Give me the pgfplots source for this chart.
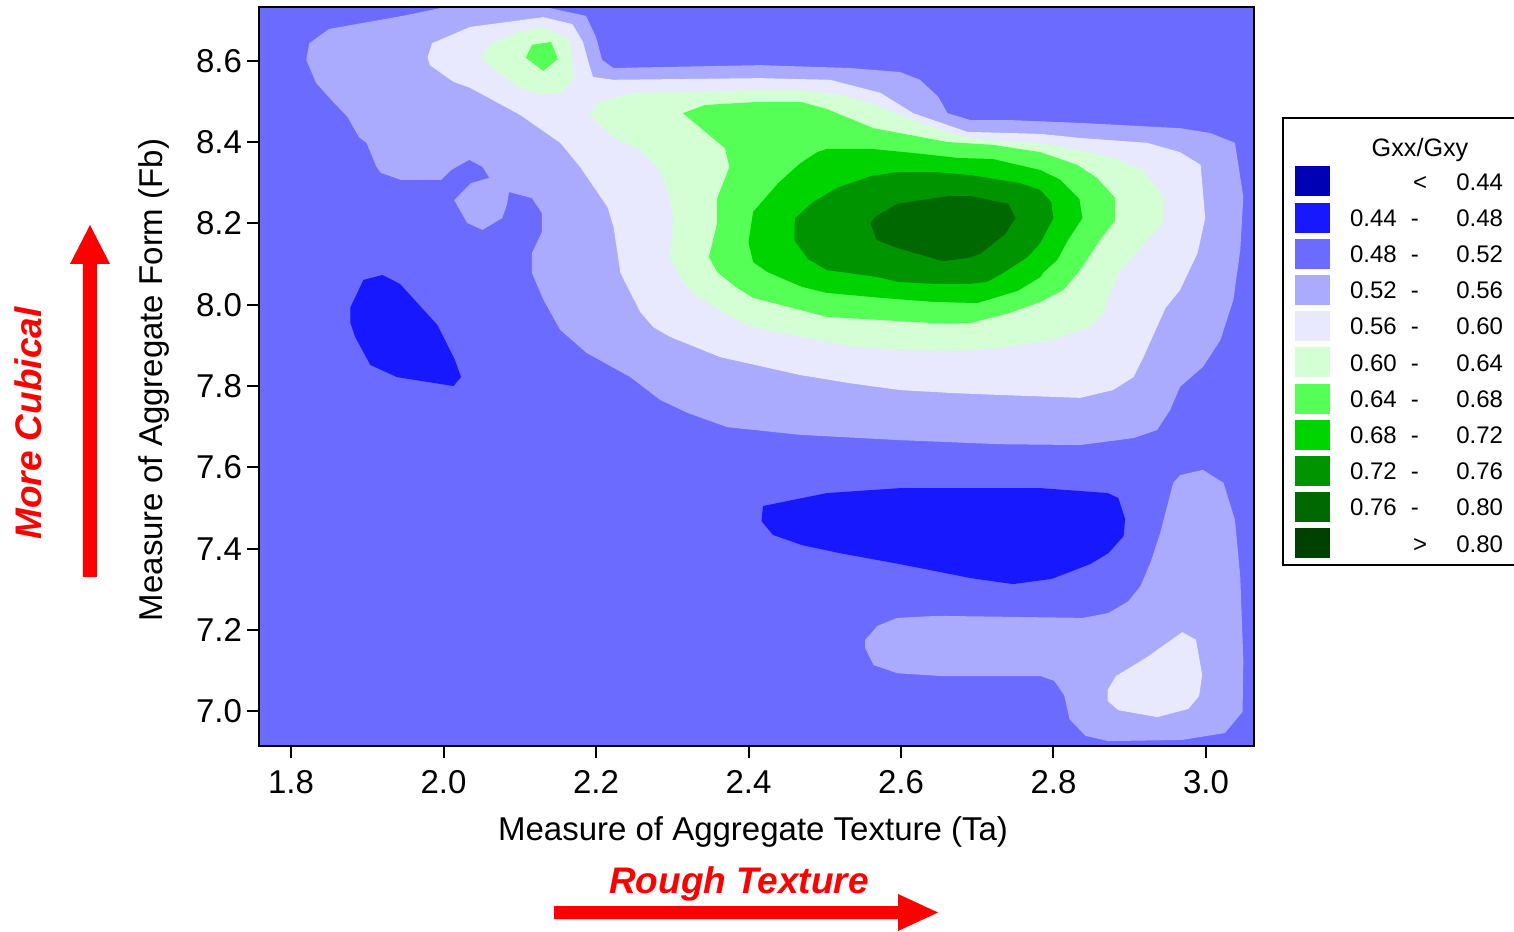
\documentclass[border=0pt]{standalone}
\usepackage{fontspec}
\setmainfont{Liberation Sans}
\usepackage{pgfplots}
\pgfplotsset{compat=1.18}
\definecolor{c1}{RGB}{0,0,180}
\definecolor{c2}{RGB}{24,24,255}
\definecolor{c3}{RGB}{107,107,255}
\definecolor{c4}{RGB}{170,170,255}
\definecolor{c5}{RGB}{232,232,255}
\definecolor{c6}{RGB}{212,255,212}
\definecolor{c7}{RGB}{85,255,85}
\definecolor{c8}{RGB}{0,212,0}
\definecolor{c9}{RGB}{0,148,0}
\definecolor{c10}{RGB}{0,104,0}
\definecolor{c11}{RGB}{0,64,0}
\newcommand{\LR}[2]{\raisebox{0pt}[11.3pt][2.7pt]{\hbox to 76.5pt{\rlap{#1}\hskip 32.5pt\makebox[0pt]{-}\hfill #2}}}
\newcommand{\LS}[2]{\raisebox{0pt}[11.3pt][2.7pt]{\hbox to 76.5pt{\hskip 35pt\makebox[0pt]{#1}\hfill #2}}}
\pgfplotsset{sw/.style={legend image code/.code={\fill[#1] (0pt,-7pt) rectangle (16.5pt,7pt);}}}
\begin{document}
\begin{tikzpicture}
\useasboundingbox (-129.5pt,-92.5pt) rectangle (627.5pt,373pt);
\begin{axis}[
  at={(0pt,0pt)}, anchor=south west,
  scale only axis, width=497.5pt, height=369.5pt,
  xmin=1.758, xmax=3.063, ymin=6.915, ymax=8.732,
  axis on top,
  axis background/.style={fill=c3},
  axis line style={line width=1pt},
  every tick/.style={black, line width=1pt},
  tick align=outside, major tick length=6pt,
  xtick pos=bottom, ytick pos=left,
  xtick={1.8,2.0,2.2,2.4,2.6,2.8,3.0},
  ytick={7.0,7.2,7.4,7.6,7.8,8.0,8.2,8.4,8.6},
  scaled ticks=false,
  /pgf/number format/assume math mode=true,
  /pgf/number format/fixed,
  /pgf/number format/fixed zerofill,
  /pgf/number format/precision=1,
  tick label style={font=\fontsize{16.5}{19.8}\selectfont},
  xticklabel style={yshift=-2.5pt},
  yticklabel style={xshift=1pt},
  label style={font=\fontsize{16.5}{19.8}\selectfont},
  xlabel={Measure of Aggregate Texture (Ta)},
  ylabel={Measure of Aggregate Form (Fb)},
  xlabel style={at={(axis description cs:0.4965,-0.1272)}, anchor=base},
  ylabel style={at={(axis description cs:-0.0965,0.4953)}, anchor=base},
  legend cell align=left,
  legend style={at={(1,1)}, anchor=north west, xshift=14pt, yshift=-55pt,
    draw=black, line width=1pt, fill=white,
    font=\fontsize{12}{14.4}\selectfont,
    inner xsep=6pt, inner ysep=3.5pt, row sep=3.1pt, column sep=10pt,
    nodes={inner sep=0pt, text depth={}}},
]
% 0.52 - 0.56
\addplot[fill=c4, draw=none, forget plot] coordinates {
(2.003,8.732) (1.946,8.710) (1.850,8.678) (1.824,8.643) (1.820,8.602) (1.833,8.545) (1.853,8.503) (1.874,8.462) (1.889,8.412) (1.899,8.398) (1.912,8.339) (1.918,8.324) (1.944,8.307) (1.997,8.307) (2.010,8.331) (2.021,8.343) (2.034,8.356) (2.051,8.339) (2.060,8.312) (2.036,8.299) (2.014,8.257) (2.031,8.201) (2.051,8.184) (2.077,8.213) (2.083,8.245) (2.086,8.277) (2.116,8.262) (2.129,8.225) (2.129,8.179) (2.116,8.127) (2.116,8.078) (2.131,8.012) (2.153,7.938) (2.188,7.881) (2.245,7.822) (2.284,7.766) (2.320,7.734) (2.372,7.699) (2.468,7.680) (2.599,7.667) (2.730,7.657) (2.835,7.655) (2.905,7.672) (2.936,7.692) (2.953,7.741) (2.966,7.798) (2.996,7.847) (3.019,7.913) (3.036,8.012) (3.045,8.135) (3.049,8.265) (3.038,8.398) (3.006,8.422) (2.966,8.434) (2.835,8.447) (2.743,8.454) (2.691,8.454) (2.661,8.471) (2.649,8.511) (2.625,8.553) (2.599,8.572) (2.533,8.582) (2.415,8.589) (2.223,8.582) (2.208,8.602) (2.200,8.658) (2.187,8.710) (2.133,8.732)
} -- cycle;
\addplot[fill=c4, draw=none, forget plot] coordinates {
(2.553,7.176) (2.569,7.210) (2.595,7.230) (2.648,7.235) (2.839,7.230) (2.872,7.242) (2.898,7.271) (2.914,7.308) (2.927,7.365) (2.940,7.439) (2.957,7.562) (2.966,7.581) (2.996,7.594) (3.023,7.562) (3.038,7.471) (3.045,7.330) (3.049,7.126) (3.048,6.999) (3.025,6.947) (2.969,6.930) (2.872,6.927) (2.842,6.940) (2.821,6.981) (2.814,7.040) (2.801,7.075) (2.783,7.087) (2.652,7.087) (2.595,7.094) (2.564,7.114) (2.553,7.156)
} -- cycle;
% 0.56 - 0.60
\addplot[fill=c5, draw=none, forget plot] coordinates {
(1.979,8.607) (1.985,8.643) (2.035,8.683) (2.131,8.707) (2.169,8.690) (2.183,8.646) (2.190,8.597) (2.196,8.560) (2.223,8.553) (2.415,8.557) (2.507,8.553) (2.573,8.521) (2.616,8.471) (2.687,8.425) (2.783,8.420) (2.835,8.410) (2.923,8.398) (2.966,8.375) (2.993,8.344) (2.999,8.213) (2.989,8.127) (2.966,8.036) (2.947,7.992) (2.918,7.871) (2.905,7.822) (2.878,7.790) (2.835,7.771) (2.730,7.778) (2.665,7.783) (2.599,7.790) (2.533,7.807) (2.468,7.827) (2.363,7.871) (2.297,7.921) (2.275,7.945) (2.258,7.982) (2.232,8.078) (2.223,8.191) (2.215,8.240) (2.179,8.339) (2.153,8.398) (2.101,8.466) (2.035,8.533) (2.013,8.548) (1.982,8.589)
} -- cycle;
\addplot[fill=c5, draw=none, forget plot] coordinates {
(2.871,7.053) (2.882,7.087) (2.923,7.134) (2.969,7.195) (2.987,7.176) (2.995,7.090) (2.991,7.038) (2.977,7.006) (2.936,6.986) (2.885,7.003) (2.871,7.026)
} -- cycle;
% 0.60 - 0.64
\addplot[fill=c6, draw=none, forget plot] coordinates {
(2.051,8.607) (2.060,8.639) (2.099,8.671) (2.129,8.683) (2.165,8.653) (2.171,8.560) (2.156,8.521) (2.129,8.518) (2.099,8.533) (2.051,8.602)
} -- cycle;
\addplot[fill=c6, draw=none, forget plot] coordinates {
(2.310,8.523) (2.415,8.528) (2.468,8.528) (2.520,8.516) (2.560,8.496) (2.599,8.466) (2.645,8.434) (2.687,8.410) (2.730,8.403) (2.783,8.398) (2.835,8.380) (2.878,8.361) (2.918,8.331) (2.944,8.265) (2.944,8.203) (2.914,8.139) (2.888,8.085) (2.874,8.029) (2.865,7.975) (2.846,7.943) (2.796,7.913) (2.730,7.894) (2.665,7.886) (2.599,7.889) (2.533,7.898) (2.468,7.921) (2.406,7.945) (2.367,7.980) (2.327,8.029) (2.310,8.068) (2.297,8.117) (2.301,8.208) (2.297,8.257) (2.284,8.331) (2.258,8.380) (2.223,8.412) (2.192,8.466) (2.202,8.496) (2.249,8.521)
} -- cycle;
% 0.64 - 0.68
\addplot[fill=c7, draw=none, forget plot] coordinates {
(2.108,8.607) (2.116,8.639) (2.141,8.646) (2.150,8.604) (2.131,8.575)
} -- cycle;
\addplot[fill=c7, draw=none, forget plot] coordinates {
(2.314,8.471) (2.343,8.491) (2.406,8.498) (2.470,8.498) (2.503,8.481) (2.564,8.434) (2.661,8.400) (2.721,8.393) (2.783,8.375) (2.831,8.344) (2.857,8.312) (2.881,8.262) (2.881,8.208) (2.861,8.159) (2.835,8.085) (2.813,8.036) (2.783,8.007) (2.743,7.980) (2.691,7.955) (2.641,7.955) (2.503,7.970) (2.406,8.017) (2.383,8.044) (2.359,8.080) (2.348,8.117) (2.359,8.201) (2.359,8.262) (2.375,8.339) (2.369,8.385)
} -- cycle;
% 0.68 - 0.72
\addplot[fill=c8, draw=none, forget plot] coordinates {
(2.406,8.228) (2.439,8.299) (2.468,8.348) (2.490,8.375) (2.503,8.383) (2.562,8.383) (2.616,8.373) (2.674,8.361) (2.721,8.358) (2.783,8.331) (2.809,8.307) (2.834,8.260) (2.838,8.213) (2.819,8.159) (2.805,8.110) (2.787,8.080) (2.783,8.068) (2.753,8.034) (2.700,8.004) (2.642,8.007) (2.573,8.017) (2.503,8.029) (2.470,8.044) (2.425,8.080) (2.406,8.105) (2.400,8.154)
} -- cycle;
% 0.72 - 0.76
\addplot[fill=c9, draw=none, forget plot] coordinates {
(2.461,8.213) (2.485,8.253) (2.518,8.289) (2.562,8.317) (2.596,8.326) (2.645,8.326) (2.691,8.319) (2.756,8.299) (2.783,8.282) (2.797,8.253) (2.800,8.213) (2.783,8.152) (2.766,8.117) (2.734,8.078) (2.713,8.056) (2.688,8.051) (2.645,8.051) (2.596,8.056) (2.569,8.068) (2.503,8.085) (2.478,8.112) (2.460,8.159)
} -- cycle;
% 0.76 - 0.80
\addplot[fill=c10, draw=none, forget plot] coordinates {
(2.560,8.201) (2.566,8.216) (2.595,8.248) (2.662,8.267) (2.691,8.267) (2.741,8.248) (2.750,8.213) (2.737,8.174) (2.704,8.125) (2.688,8.115) (2.655,8.107) (2.596,8.139) (2.568,8.159)
} -- cycle;
% 0.44 - 0.48
\addplot[fill=c2, draw=none, forget plot] coordinates {
(1.878,7.994) (1.895,8.061) (1.920,8.073) (1.943,8.051) (1.992,7.950) (2.015,7.864) (2.023,7.822) (2.013,7.800) (1.939,7.822) (1.904,7.852) (1.884,7.921) (1.878,7.955)
} -- cycle;
\addplot[fill=c2, draw=none, forget plot] coordinates {
(2.419,7.505) (2.503,7.537) (2.599,7.549) (2.783,7.549) (2.871,7.537) (2.885,7.525) (2.894,7.473) (2.892,7.431) (2.872,7.389) (2.848,7.362) (2.798,7.326) (2.747,7.313) (2.691,7.328) (2.599,7.362) (2.520,7.389) (2.470,7.409) (2.432,7.434) (2.417,7.468)
} -- cycle;
% legend
\addlegendimage{empty legend}
\addlegendentry{\raisebox{0pt}[15.6pt][2.05pt]{\hbox to 76.5pt{\hskip 35pt\makebox[0pt]{\fontsize{12.6}{15}\selectfont Gxx/Gxy}\hfill}}}
\addlegendimage{sw=c1}\addlegendentry{\LS{<}{0.44}}
\addlegendimage{sw=c2}\addlegendentry{\LR{0.44}{0.48}}
\addlegendimage{sw=c3}\addlegendentry{\LR{0.48}{0.52}}
\addlegendimage{sw=c4}\addlegendentry{\LR{0.52}{0.56}}
\addlegendimage{sw=c5}\addlegendentry{\LR{0.56}{0.60}}
\addlegendimage{sw=c6}\addlegendentry{\LR{0.60}{0.64}}
\addlegendimage{sw=c7}\addlegendentry{\LR{0.64}{0.68}}
\addlegendimage{sw=c8}\addlegendentry{\LR{0.68}{0.72}}
\addlegendimage{sw=c9}\addlegendentry{\LR{0.72}{0.76}}
\addlegendimage{sw=c10}\addlegendentry{\LR{0.76}{0.80}}
\addlegendimage{sw=c11}\addlegendentry{\LS{>}{0.80}}
\end{axis}
% annotations
\fill[red] (-88pt,84.5pt) -- (-88pt,241pt) -- (-94.5pt,241pt) -- (-84.5pt,260.5pt) -- (-74.5pt,241pt) -- (-81pt,241pt) -- (-81pt,84.5pt) -- cycle;
\node[rotate=90, anchor=base, red, font=\fontsize{18.5}{22}\selectfont\bfseries\itshape] at (-108.5pt,161.25pt) {More Cubical};
\fill[red] (147.5pt,-80pt) -- (319.5pt,-80pt) -- (319.5pt,-74pt) -- (339.5pt,-83.25pt) -- (319.5pt,-92.5pt) -- (319.5pt,-86.5pt) -- (147.5pt,-86.5pt) -- cycle;
\node[anchor=base, red, font=\fontsize{18.5}{22}\selectfont\bfseries\itshape] at (240pt,-73.5pt) {Rough Texture};
\end{tikzpicture}
\end{document}
